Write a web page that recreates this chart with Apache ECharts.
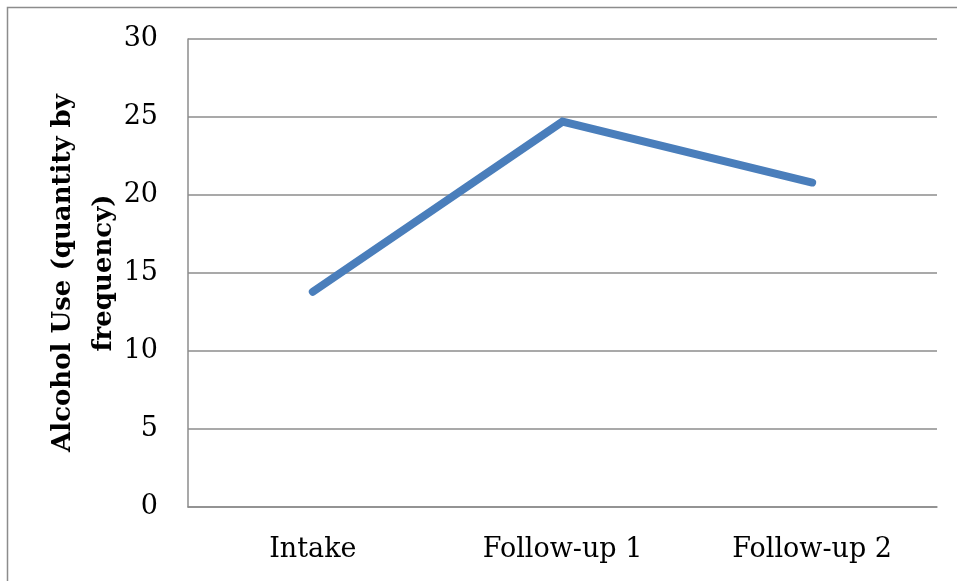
<!DOCTYPE html>
<html>
<head>
<meta charset="utf-8">
<script src="https://cdn.jsdelivr.net/npm/echarts@6/dist/echarts.min.js"></script>
<style>
  html, body { margin: 0; padding: 0; background: #ffffff; }
  #chart { width: 957px; height: 581px; }
</style>
</head>
<body>
<div id="chart"></div>
<script>
// Mean alcohol use at each assessment point
const categories = ['Intake', 'Follow-up 1', 'Follow-up 2'];
const alcoholUse = [13.8, 24.7, 20.8];
const yTicks = [0, 5, 10, 15, 20, 25, 30];

const serif = '"DejaVu Serif", "Liberation Serif", serif';
const chart = echarts.init(document.getElementById('chart'), null, { renderer: 'canvas' });

chart.setOption({
  backgroundColor: '#ffffff',
  animation: false,
  graphic: [{
    type: 'rect',
    shape: { x: 7.5, y: 7.5, width: 1000, height: 1000 },
    style: { fill: 'none', stroke: '#8c8c8c', lineWidth: 1.5 },
    silent: true
  }],
  grid: { left: 188, top: 39, right: 20, bottom: 74 },
  xAxis: {
    type: 'category',
    data: categories,
    boundaryGap: true,
    axisLine: { show: true, lineStyle: { color: '#8c8c8c', width: 1.5 } },
    axisTick: { show: false },
    axisLabel: { color: '#000', fontFamily: serif, fontSize: 27, margin: 29 },
    splitLine: { show: false }
  },
  yAxis: {
    type: 'value',
    min: yTicks[0],
    max: yTicks[yTicks.length - 1],
    interval: yTicks[1] - yTicks[0],
    name: 'Alcohol Use (quantity by\nfrequency)',
    nameLocation: 'middle',
    nameRotate: 90,
    nameGap: 63,
    nameMoveOverlap: false,
    nameTextStyle: { color: '#000', fontFamily: serif, fontSize: 26, fontWeight: 'bold', lineHeight: 41 },
    axisLine: { show: true, lineStyle: { color: '#8c8c8c', width: 1.5 } },
    axisTick: { show: false },
    axisLabel: { color: '#000', fontFamily: serif, fontSize: 27, margin: 30 },
    splitLine: { show: true, lineStyle: { color: '#8c8c8c', width: 1.5 } }
  },
  series: [{
    type: 'line',
    data: alcoholUse,
    symbol: 'none',
    lineStyle: { color: '#4a7ebb', width: 8, cap: 'round', join: 'miter' },
    itemStyle: { color: '#4a7ebb' }
  }]
});
</script>
</body>
</html>
